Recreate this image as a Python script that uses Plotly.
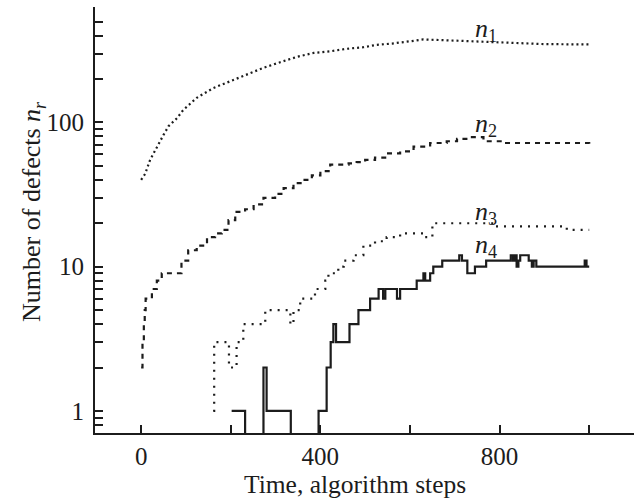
import plotly.graph_objects as go

# Number of defects n_r versus time (algorithm steps)
n1_steps = [0, 9, 20, 35, 50, 61, 80, 94, 124, 161, 199, 236, 273, 310, 348, 385,
            422, 459, 496, 526, 560, 600, 630, 670, 710, 750, 790, 840, 900, 950, 1000]
n1_values = [40, 44, 55, 68, 82, 94, 107, 122, 148, 173, 193, 214, 239, 261, 285, 303,
             311, 324, 332, 345, 352, 365, 376, 372, 368, 362, 356, 352, 349, 348, 347]

n2_steps = [0, 3, 6, 8, 10, 24, 35, 46, 90, 105, 124, 147, 165, 180, 195, 210, 232, 251,
            273, 299, 318, 340, 359, 381, 400, 422, 463, 481, 500, 522, 548, 578, 608,
            645, 682, 705, 734, 764, 809, 883, 958, 1000]
n2_values = [2, 3, 4, 5, 6, 7, 8, 9, 11, 13, 14, 16, 17, 18, 21, 24, 25, 27,
             30, 32, 35, 38, 40, 43, 46, 51, 52, 53, 55, 57, 61, 63, 68,
             72, 74, 77, 79, 74, 72, 72, 72, 71]

n3_steps = [161, 163, 196, 213, 228, 277, 333, 340, 355, 388, 411, 418, 440, 452, 474,
            496, 522, 548, 578, 634, 650, 786, 816, 883, 950, 1000]
n3_values = [1, 3, 2, 3, 4, 5, 4, 5, 6, 7, 8, 9, 10, 11, 12,
             14, 15, 16, 17, 16, 20, 19, 19, 19, 18, 18]

n4_steps = [202, 232, 273, 280, 334, 396, 414, 423, 429, 435, 465, 485, 511, 530, 540,
            545, 571, 578, 615, 630, 634, 645, 652, 672, 710, 716, 728, 745, 770, 825,
            830, 834, 838, 842, 846, 865, 872, 876, 882, 890, 990, 994, 1000]
n4_values = [1, 0, 2, 1, 0, 1, 2, 3, 4, 3, 4, 5, 6, 7, 6,
             7, 6, 7, 8, 9, 8, 9, 10, 11, 12, 11, 9, 10, 11, 12,
             11, 12, 10, 11, 12, 11, 10, 11, 10, 10, 11, 10, 10]

x_tick_vals = [0, 200, 400, 600, 800, 1000]
x_tick_text = ["0", "", "400", "", "800", ""]
y_tick_vals = [0.8, 0.9, 1, 2, 3, 4, 5, 6, 7, 8, 9, 10, 20, 30, 40, 50, 60, 70, 80, 90,
               100, 200, 300, 400, 500]
y_tick_text = ["1" if v == 1 else "10" if v == 10 else "100" if v == 100 else ""
               for v in y_tick_vals]

INK = "#1c1c1c"
FONT = "Liberation Serif"

# zero defects cannot sit on a log axis: draw them just below the axis floor
floor = 0.5
n4_plot = [v if v > 0 else floor for v in n4_values]

fig = go.Figure()
fig.add_trace(go.Scatter(x=n1_steps, y=n1_values, mode="lines",
                         line=dict(color=INK, width=2.2, dash="2px,3px")))
fig.add_trace(go.Scatter(x=n2_steps, y=n2_values, mode="lines", line_shape="hv",
                         line=dict(color=INK, width=2.2, dash="5px,5px")))
fig.add_trace(go.Scatter(x=n3_steps, y=n3_values, mode="lines", line_shape="hv",
                         line=dict(color=INK, width=2.2, dash="2px,6px")))
fig.add_trace(go.Scatter(x=n4_steps, y=n4_plot, mode="lines", line_shape="hv",
                         line=dict(color=INK, width=2.2)))

labels = [("1", 2.644), ("2", 1.983), ("3", 1.371), ("4", 1.141)]
for sub, ly in labels:
    fig.add_annotation(x=770, y=ly, xref="x", yref="y", showarrow=False,
                       xanchor="center", yanchor="middle",
                       text=f"<i>n</i><sub>{sub}</sub>",
                       font=dict(family=FONT, size=26, color=INK))

fig.add_annotation(x=0.483, y=-0.122, xref="paper", yref="paper", showarrow=False,
                   xanchor="center", yanchor="middle",
                   text="Time, algorithm steps", font=dict(family=FONT, size=25.5, color=INK))
fig.add_annotation(x=-0.115, y=0.519, xref="paper", yref="paper", showarrow=False,
                   xanchor="center", yanchor="middle", textangle=-90,
                   text="Number of defects <i>n</i><sub><i>r</i></sub>",
                   font=dict(family=FONT, size=26, color=INK))

fig.update_xaxes(range=[-103, 1100], showline=True, linewidth=2, linecolor=INK,
                 showgrid=False, zeroline=False, ticks="inside", ticklen=8, tickwidth=1.5,
                 tickcolor=INK, tickvals=x_tick_vals, ticktext=x_tick_text,
                 tickfont=dict(family=FONT, size=25, color=INK))
fig.update_yaxes(type="log", range=[-0.153, 2.80], showline=True, linewidth=2,
                 linecolor=INK, showgrid=False, zeroline=False, ticks="inside",
                 ticklen=8, tickwidth=1.5, tickcolor=INK, tickvals=y_tick_vals,
                 ticktext=y_tick_text, ticklabelstandoff=4,
                 tickfont=dict(family=FONT, size=25, color=INK))

fig.update_layout(width=634, height=500, showlegend=False,
                  margin=dict(l=95, r=0, t=7, b=67),
                  plot_bgcolor="white", paper_bgcolor="white")

# the page's default body margin would push the figure 8px off its spot
fig.write_html("out.html", config={"displayModeBar": False},
               post_script="document.body.style.margin='0';")
